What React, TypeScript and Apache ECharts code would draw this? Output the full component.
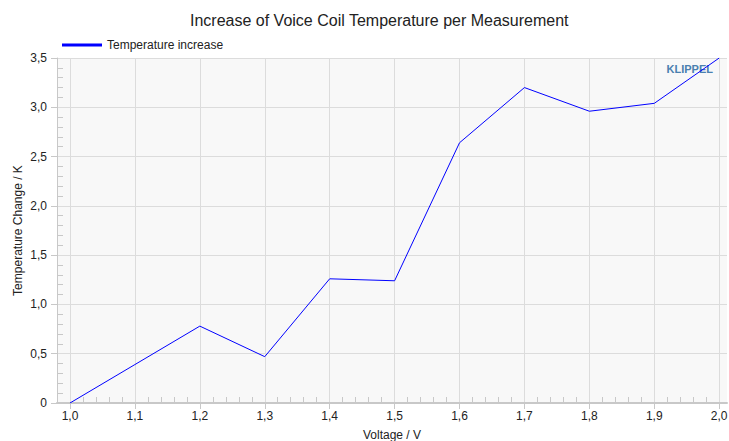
import React, { useEffect, useRef } from "react";
import * as echarts from "echarts";

const voltage = [1.0, 1.1, 1.2, 1.3, 1.4, 1.5, 1.6, 1.7, 1.8, 1.9, 2.0];
const tempIncrease = [0, 0.39, 0.78, 0.47, 1.26, 1.24, 2.64, 3.2, 2.96, 3.04, 3.5];
const xMajorTicks = [1.0, 1.1, 1.2, 1.3, 1.4, 1.5, 1.6, 1.7, 1.8, 1.9, 2.0];
const yMajorTicks = [0, 0.5, 1.0, 1.5, 2.0, 2.5, 3.0, 3.5];
const seriesName = "Temperature increase";
const titleText = "Increase of Voice Coil Temperature per Measurement";
const xName = "Voltage / V";
const yName = "Temperature Change / K";
const logoText = "KLIPPEL";

function minorBetween(major: number[], parts: number): number[] {
  const out: number[] = [];
  for (let i = 0; i < major.length - 1; i++) {
    const a = major[i];
    const b = major[i + 1];
    for (let k = 1; k < parts; k++) out.push(+(a + ((b - a) * k) / parts).toFixed(4));
  }
  return out;
}

const fmt = (v: number) => (v === 0 ? "0" : v.toFixed(1).replace(".", ","));

export default function App() {
  const ref = useRef<HTMLDivElement>(null);
  useEffect(() => {
    if (!ref.current) return;
    const chart = echarts.init(ref.current, null, { renderer: "svg" });
    const font = "'Liberation Sans', Arial, sans-serif";
    const xMinor = [0.98, ...minorBetween(xMajorTicks, 5)];
    const yMinor = minorBetween(yMajorTicks, 5);
    const axisGray = "#c8c8c8";
    const gridGray = "#dcdcdc";
    chart.setOption({
      animation: false,
      textStyle: { fontFamily: font },
      title: {
        text: titleText,
        left: 185,
        top: 7,
        textStyle: { fontSize: 16, fontWeight: "normal", color: "#222", fontFamily: font },
      },
      legend: {
        left: 57,
        top: 34,
        icon: "rect",
        itemWidth: 40,
        itemHeight: 3,
        textStyle: { fontSize: 12, color: "#222", fontFamily: font },
        data: [seriesName],
      },
      grid: {
        left: 57,
        right: 2,
        top: 58,
        bottom: 38,
        show: true,
        backgroundColor: "#f8f8f8",
        borderWidth: 0,
        containLabel: false,
        outerBoundsMode: "none",
      },
      xAxis: [
        {
          type: "value",
          min: 0.98,
          max: 2.012,
          name: xName,
          nameLocation: "middle",
          nameGap: 26,
          nameMoveOverlap: false,
          nameTextStyle: { fontSize: 12, color: "#222", fontFamily: font },
          axisLine: { show: true, lineStyle: { color: axisGray, width: 2 } },
          axisTick: { show: true, customValues: xMajorTicks, length: 6, lineStyle: { color: axisGray } },
          axisLabel: {
            customValues: xMajorTicks,
            formatter: (v: number) => fmt(v),
            fontSize: 12,
            color: "#222",
            margin: 7,
            fontFamily: font,
          },
          splitLine: { show: true, lineStyle: { color: gridGray, width: 1 } },
        },
        {
          type: "value",
          min: 0.98,
          max: 2.012,
          position: "bottom",
          offset: 0,
          axisLine: { show: false },
          axisTick: { show: true, inside: true, customValues: xMinor, length: 6, lineStyle: { color: axisGray } },
          axisLabel: { show: false },
          splitLine: { show: false },
        },
      ],
      yAxis: [
        {
          type: "value",
          min: 0,
          max: 3.5,
          interval: 0.5,
          name: yName,
          nameLocation: "middle",
          nameGap: 33,
          nameMoveOverlap: false,
          nameTextStyle: { fontSize: 12, color: "#222", fontFamily: font },
          axisLine: { show: true, lineStyle: { color: axisGray, width: 1 } },
          axisTick: { show: true, length: 6, lineStyle: { color: axisGray } },
          axisLabel: {
            formatter: (v: number) => fmt(v),
            fontSize: 12,
            color: "#222",
            margin: 10,
            fontFamily: font,
          },
          splitLine: { show: true, lineStyle: { color: gridGray, width: 1 } },
        },
        {
          type: "value",
          min: 0,
          max: 3.5,
          position: "left",
          offset: 0,
          axisLine: { show: false },
          axisTick: { show: true, inside: true, customValues: yMinor, length: 6, lineStyle: { color: axisGray } },
          axisLabel: { show: false },
          splitLine: { show: false },
        },
      ],
      graphic: [
        {
          type: "text",
          right: 16,
          top: 63,
          style: {
            text: logoText,
            fontSize: 11,
            fontWeight: "bold",
            fill: "#4a80b0",
            fontFamily: font,
          },
          z: 1,
        },
      ],
      series: [
        {
          name: seriesName,
          type: "line",
          xAxisIndex: 0,
          yAxisIndex: 0,
          data: voltage.map((v, i) => [v, tempIncrease[i]]),
          showSymbol: false,
          symbol: "none",
          lineStyle: { color: "#0000ff", width: 1 },
          itemStyle: { color: "#0000ff" },
          z: 5,
        },
      ],
    });
    return () => chart.dispose();
  }, []);
  return <div ref={ref} style={{ width: 729, height: 441, position: "absolute", left: 0, top: 0 }} />;
}
